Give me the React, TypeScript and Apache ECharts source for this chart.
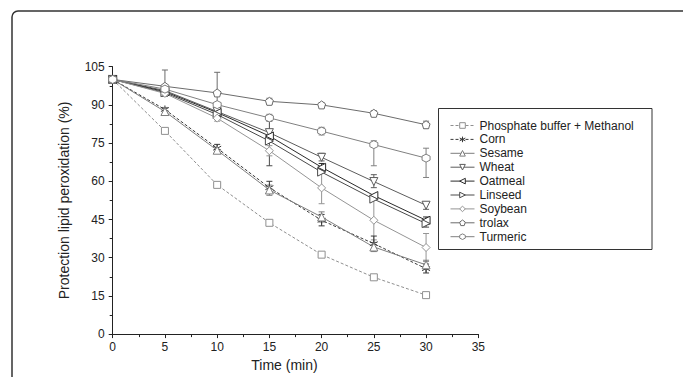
import React, { useEffect, useRef } from "react";
import * as echarts from "echarts";

const times = [0, 5, 10, 15, 20, 25, 30];
const xTicks = [0, 5, 10, 15, 20, 25, 30, 35];
const yTicks = [0, 15, 30, 45, 60, 75, 90, 105];

const seriesNames = [
  "Phosphate buffer + Methanol",
  "Corn",
  "Sesame",
  "Wheat",
  "Oatmeal",
  "Linseed",
  "Soybean",
  "trolax",
  "Turmeric",
];

const phosphate = [100, 79.8, 58.6, 43.7, 31.2, 22.3, 15.3];
const corn = [100, 88.2, 73, 57.5, 44.7, 35.5, 25.7];
const sesame = [100, 87.4, 72.2, 56.6, 46, 34.2, 27.2];
const wheat = [100, 95.6, 87.4, 79.1, 69.4, 59.9, 50.6];
const oatmeal = [100, 95.2, 87, 77.8, 65.5, 54.4, 44.7];
const linseed = [100, 94.8, 86.2, 75.8, 63.6, 53, 43.4];
const soybean = [100, 94.5, 84.8, 72, 57.4, 44.7, 34];
const trolax = [100, 97.3, 94.7, 91.4, 90, 86.7, 82.2];
const turmeric = [100, 96.2, 90.1, 84.9, 79.7, 74.4, 69.1];

const seriesValues = [phosphate, corn, sesame, wheat, oatmeal, linseed, soybean, trolax, turmeric];

// error bars: [series index, time, low, high]
const errorBars: number[][] = [
  [7, 5, 93.3, 103.7],
  [7, 10, 86.6, 102.8],
  [7, 15, 90.2, 92.6],
  [7, 20, 88.8, 90.8],
  [7, 25, 85.5, 87.7],
  [7, 30, 80.8, 83.6],
  [8, 15, 83.5, 86.3],
  [8, 20, 78.2, 81.2],
  [8, 25, 66.1, 75.9],
  [8, 30, 61.5, 73],
  [3, 20, 68, 71],
  [3, 25, 57.5, 62.6],
  [3, 30, 49, 51.8],
  [4, 20, 64, 67],
  [4, 30, 43, 46],
  [5, 15, 66.1, 85.6],
  [5, 30, 42, 45],
  [6, 10, 83.6, 86.2],
  [6, 15, 70, 74],
  [6, 20, 51.2, 64.8],
  [6, 25, 37, 53],
  [6, 30, 28.5, 39.5],
  [1, 10, 71.5, 74.5],
  [1, 15, 55.5, 60],
  [1, 20, 42.5, 47],
  [1, 25, 33, 38.5],
  [1, 30, 24, 27.5],
  [2, 5, 86, 89],
  [2, 15, 54.5, 58.5],
  [2, 20, 44, 48],
  [2, 25, 32.4, 36],
  [2, 30, 25.5, 29],
];

const colors = ["#8f8f8f", "#3a3a3a", "#7d7d7d", "#5c5c5c", "#2a2a2a", "#4a4a4a", "#959595", "#6c6c6c", "#808080"];
const dashes: any[] = [[3, 2], [3, 2], "solid", "solid", "solid", "solid", "solid", "solid", "solid"];
const symbols = [
  "rect",
  "path://M0 -5L0 5M-4.33 -2.5L4.33 2.5M-4.33 2.5L4.33 -2.5",
  "triangle",
  "triangle",
  "triangle",
  "triangle",
  "diamond",
  "path://M0 -5L4.76 -1.55L2.94 4.05L-2.94 4.05L-4.76 -1.55Z",
  "path://M0 -5L4.33 -2.5L4.33 2.5L0 5L-4.33 2.5L-4.33 -2.5Z",
];
const rotations = [0, 0, 0, 180, 90, -90, 0, 0, 0];
const sizes = [7, 8, 8, 8, 8, 8, 8, 8, 8];

const FONT = "Liberation Sans, Arial, sans-serif";

export default function App() {
  const ref = useRef<HTMLDivElement>(null);
  useEffect(() => {
    document.body.style.margin = "0";
    const chart = echarts.init(ref.current!, null, { renderer: "svg" });
    const lineSeries = seriesNames.map((name, i) => ({
      name,
      type: "line",
      z: 3,
      data: times.map((t, j) => [t, seriesValues[i][j]]),
      symbol: symbols[i],
      symbolSize: sizes[i],
      symbolRotate: rotations[i],
      showSymbol: true,
      lineStyle: { color: colors[i], width: 1, type: dashes[i] },
      itemStyle: { color: "#ffffff", borderColor: colors[i], borderWidth: 1 },
    }));
    const errSeries = {
      type: "custom",
      z: 2,
      silent: true,
      encode: { x: 0, y: [1, 2] },
      data: errorBars.map((e) => [e[1], e[2], e[3], e[0]]),
      renderItem: (params: any, api: any) => {
        const x = api.value(0);
        const lo = api.coord([x, api.value(1)]);
        const hi = api.coord([x, api.value(2)]);
        const c = colors[api.value(3)];
        const w = 3;
        const st = { stroke: c, lineWidth: 1 };
        return {
          type: "group",
          children: [
            { type: "line", shape: { x1: lo[0], y1: lo[1], x2: hi[0], y2: hi[1] }, style: st },
            { type: "line", shape: { x1: hi[0] - w, y1: hi[1], x2: hi[0] + w, y2: hi[1] }, style: st },
            { type: "line", shape: { x1: lo[0] - w, y1: lo[1], x2: lo[0] + w, y2: lo[1] }, style: st },
          ],
        };
      },
    };
    chart.setOption({
      animation: false,
      backgroundColor: "#ffffff",
      textStyle: { fontFamily: FONT },
      grid: { left: 112.7, right: 204.7, top: 66.7, bottom: 40.3 },
      graphic: [
        {
          type: "rect",
          shape: { x: 12, y: 11, width: 720, height: 420, r: 6 },
          style: { fill: "transparent", stroke: "#333", lineWidth: 1.5 },
          silent: true,
        },
        {
          type: "rect",
          shape: { x: 438.5, y: 108.5, width: 213.5, height: 141 },
          style: { fill: "#fff", stroke: "#333", lineWidth: 1 },
          silent: true,
          z: 0,
        },
      ],
      legend: {
        data: seriesNames,
        orient: "vertical",
        left: 450,
        top: 119.5,
        itemWidth: 24,
        itemHeight: 7,
        itemGap: 1.9,
        itemTextGap: 3,
        padding: 0,
        lineStyle: { width: 1 },
        itemStyle: { borderWidth: 1, color: "#ffffff" },
        textStyle: { fontSize: 12, lineHeight: 11, color: "#222", fontFamily: FONT },
        z: 10,
      },
      xAxis: {
        type: "value",
        min: 0,
        max: 35,
        interval: 5,
        name: "Time (min)",
        nameLocation: "middle",
        nameGap: 23,
        nameTextStyle: { fontSize: 14, color: "#222", fontFamily: FONT, padding: [0, 22, 0, 0] },
        axisLine: { show: true, onZero: false, lineStyle: { color: "#222", width: 1 } },
        axisTick: { show: true, inside: false, length: 4, lineStyle: { color: "#222" } },
        minorTick: { show: true, splitNumber: 2, length: 3, lineStyle: { color: "#222" } },
        splitLine: { show: false },
        axisLabel: {
          margin: 7,
          fontSize: 12,
          color: "#222",
          fontFamily: FONT,
          formatter: (v: number) => (xTicks.includes(v) ? String(v) : ""),
        },
      },
      yAxis: {
        type: "value",
        min: 0,
        max: 105,
        interval: 15,
        name: "Protection lipid peroxidation (%)",
        nameLocation: "middle",
        nameGap: 42,
        nameTextStyle: { fontSize: 14, color: "#222", fontFamily: FONT },
        axisLine: { show: true, onZero: false, lineStyle: { color: "#222", width: 1 } },
        axisTick: { show: true, inside: false, length: 4, lineStyle: { color: "#222" } },
        minorTick: { show: true, splitNumber: 2, length: 3, lineStyle: { color: "#222" } },
        splitLine: { show: false },
        axisLabel: {
          margin: 8,
          fontSize: 12,
          color: "#222",
          fontFamily: FONT,
          formatter: (v: number) => (yTicks.includes(v) ? String(v) : ""),
        },
      },
      series: [errSeries, ...lineSeries],
    });
    return () => chart.dispose();
  }, []);
  return <div ref={ref} style={{ width: 683, height: 377 }} />;
}
